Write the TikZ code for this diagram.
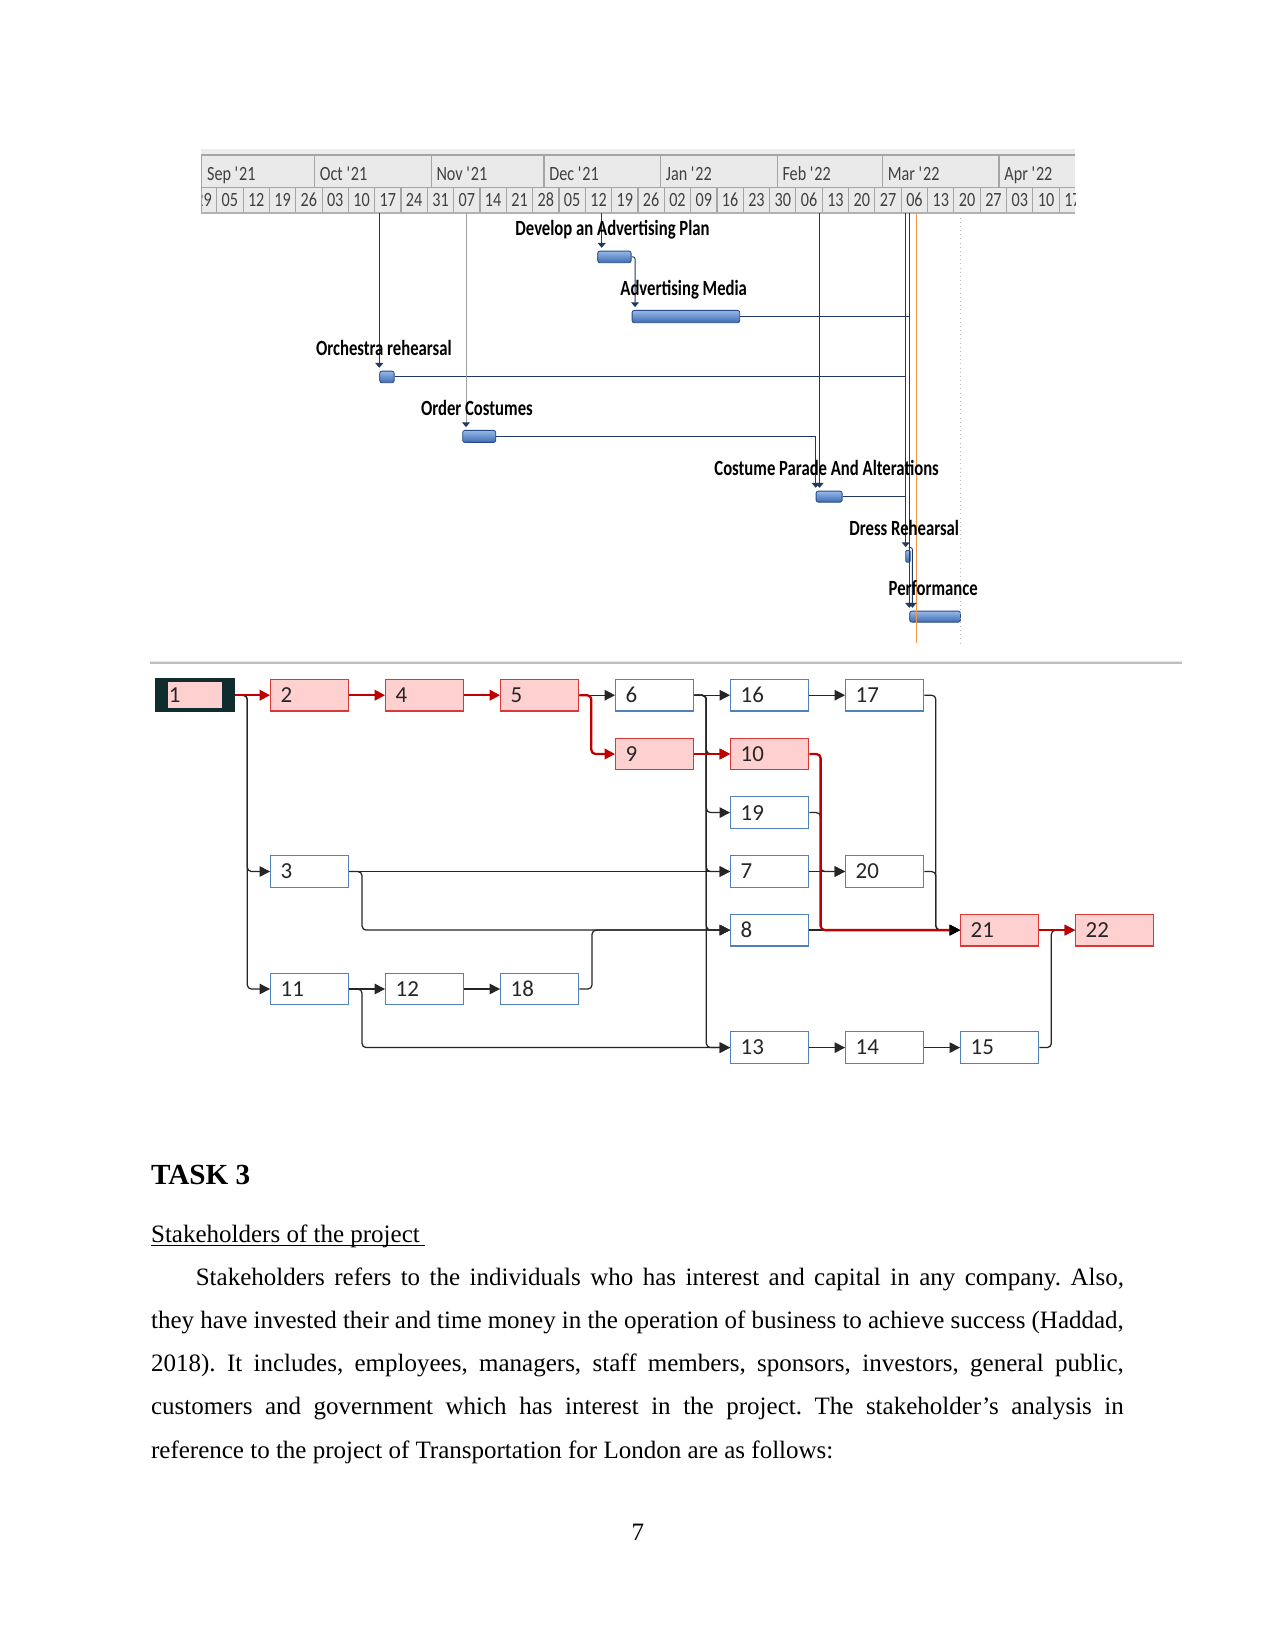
\documentclass[tikz,border=0pt]{standalone}
\usepackage{fontspec}
\setmainfont{Liberation Serif}
\newfontfamily\netfont{Carlito}
\newfontfamily\hdrfont[FakeStretch=0.8]{Carlito}
\newfontfamily\lblfont[FakeStretch=0.77]{Carlito}
\usetikzlibrary{arrows.meta}
\frenchspacing
\definecolor{gline}{RGB}{31,56,100}
\definecolor{nblue}{RGB}{79,129,189}
\definecolor{critred}{RGB}{192,0,0}
\definecolor{critdraw}{RGB}{220,55,55}
\definecolor{critfill}{RGB}{255,208,208}
\definecolor{hdrbg}{RGB}{234,234,234}
\definecolor{hdrline}{RGB}{165,165,165}
\definecolor{barTop}{RGB}{150,185,230}
\definecolor{barBot}{RGB}{62,107,180}
\definecolor{barDraw}{RGB}{40,75,135}
\definecolor{todayline}{RGB}{245,150,70}
\definecolor{boxone}{RGB}{15,45,45}
\begin{document}
\begin{tikzpicture}[x=0.48pt,y=-0.48pt,
  nbox/.style={draw=nblue, fill=white, line width=0.6pt, minimum height=15.17pt,
    text width=27.84pt, inner xsep=4.8pt, inner ysep=0pt, align=left,
    font=\netfont\fontsize{11pt}{13pt}\selectfont, text=black!85},
  cbox/.style={nbox, draw=critdraw, fill=critfill},
  blk/.style={draw=black!85, line width=0.6pt, rounded corners=2pt, -{Triangle[length=5pt,width=5pt]}},
  redl/.style={draw=critred, line width=1.1pt, rounded corners=2pt, -{Triangle[length=5pt,width=5pt]}},
  gl/.style={draw=gline, line width=0.45pt, rounded corners=1pt},
  garr/.style={gl, shorten >=1.4pt, -{Triangle[length=2.3pt,width=3.8pt]}},
  gbar/.style={draw=barDraw, line width=0.4pt, top color=barTop, bottom color=barBot,
    rounded corners=1pt, inner sep=0pt, anchor=north west},
  glabel/.style={font=\lblfont\fontsize{10.4pt}{12pt}\bfseries\selectfont, inner sep=0pt, anchor=base west},
  hdr/.style={font=\hdrfont\fontsize{9.7pt}{11pt}\selectfont, text=black!75, inner sep=0pt},
  para/.style={anchor=base west, inner sep=0pt, font=\fontsize{12pt}{14pt}\selectfont}
]
\useasboundingbox (0,0) rectangle (1275,1650);
\fill[white] (0,0) rectangle (1275,1650);

% ---------------- Gantt header ----------------
\begin{scope}
\clip (201,148) rectangle (1075.5,214);
\fill[gray!14] (201,149) rectangle (1075,155);
\fill[hdrbg] (201,155) rectangle (1075,213);
\draw[hdrline, line width=0.6pt] (201,155) -- (1075,155);
\draw[hdrline, line width=0.5pt] (201,187.5) -- (1075,187.5);
\foreach \mx/\ml [count=\i] in {201.7/Sep \textquotesingle21, 314.5/Oct \textquotesingle21,
   431.1/Nov \textquotesingle21, 544/Dec \textquotesingle21, 660.5/Jan \textquotesingle22,
   777.1/Feb \textquotesingle22, 882.4/Mar \textquotesingle22, 999/Apr \textquotesingle22}{
  \draw[hdrline, line width=0.5pt] (\mx,155) -- (\mx,187.5);
  \node[hdr, anchor=base west] (m\i) at (\mx+5,180.5) {\ml};
}
\foreach \lab [count=\k from 0] in {29,05,12,19,26,03,10,17,24,31,07,14,21,28,05,12,19,26,02,09,16,23,30,06,13,20,27,06,13,20,27,03,10,17}{
  \node[hdr, anchor=base] (d\k) at ({203.54+26.33*\k},206.8) {\lab};
  \draw[hdrline, line width=0.5pt] ({190.37+26.33*\k},187.5) -- ({190.37+26.33*\k},212.8);
}
\draw[hdrline, line width=0.5pt] (201,155) -- (201,213);
\draw[gray!60, line width=1pt] (201,212.8) -- (1075,212.8);
\end{scope}

% ---------------- Gantt bars ----------------
\node[gbar, minimum width={33.4*0.48pt}, minimum height={11.6*0.48pt}] (b1) at (597.3,250.7) {};
\node[gbar, minimum width={107.6*0.48pt}, minimum height={12.3*0.48pt}] (b2) at (631.7,310) {};
\node[gbar, minimum width={14.4*0.48pt}, minimum height={11.6*0.48pt}] (b3) at (379.3,370.7) {};
\node[gbar, minimum width={33*0.48pt}, minimum height={12*0.48pt}] (b4) at (462.3,430) {};
\node[gbar, minimum width={26*0.48pt}, minimum height={11*0.48pt}] (b5) at (815.7,490.7) {};
\node[gbar, minimum width={4.4*0.48pt}, minimum height={11.7*0.48pt}, rounded corners=0.5pt] (b6) at (905.3,550) {};
\node[gbar, minimum width={50.7*0.48pt}, minimum height={11*0.48pt}] (b7) at (909.3,610.7) {};

% header anchors of links
\coordinate (hP) at (601.7,213.4);
\coordinate (hO) at (379.3,213.4);
\coordinate (hC) at (466,213.4);
\coordinate (hD) at (819.5,213.4);
\coordinate (hA) at (905.7,213.4);
\coordinate (hB) at (909.3,213.4);
\coordinate (hT) at (916.7,213.4);
\coordinate (eT) at (916.7,643);
\coordinate (hS) at (960.5,213.4);
\coordinate (eS) at (960.5,643);

\draw[todayline, line width=0.5pt] (hT) -- (eT);
\draw[gray!55, line width=0.5pt, dash pattern=on 0.5pt off 1.5pt] (hS) -- (eS);

\draw[garr] (hP) -- (hP |- b1.north);
\draw[garr] (b1.east) -| ([xshift=1.6pt]b2.north west);
\draw[gl] (b2.east) -- (b2.east -| hB);
\draw[garr] (hO) -- (hO |- b3.north);
\draw[gl] (b3.east) -- (b3.east -| hA);
\draw[gl, draw=gray!75, shorten >=1.4pt, -{Triangle[length=2.3pt,width=3.8pt,color=gline]}] (hC) -- (hC |- b4.north);
\draw[gl] (b4.east) -- (b4.east -| b5.north west);
\draw[garr] (b4.east -| b5.north west) -- (b5.north west);
\draw[garr] (hD) -- (hD |- b5.north);
\draw[gl] (b5.east) -- (b5.east -| hA);
\draw[garr] (hA) -- (hA |- b6.north);
\draw[garr] (hB) -- (hB |- b7.north);
\draw[garr] ([yshift=1.2pt]b6.north east) -| ([xshift=1.5pt]b7.north west);

% Gantt labels
\node[glabel] (l1) at (515,236) {Develop an Advertising Plan};
\node[glabel] (l2) at (620,296) {Advertising Media};
\node[glabel] (l3) at (315.7,356) {Orchestra rehearsal};
\node[glabel] (l4) at (420.7,415.3) {Order Costumes};
\node[glabel] (l5) at (714,475) {Costume Parade And Alterations};
\node[glabel] (l6) at (849,535) {Dress Rehearsal};
\node[glabel] (l7) at (888.3,595) {Performance};

% ---------------- separator ----------------
\coordinate (sepL) at (150,663.3);
\coordinate (sepR) at (1182,663.3);
\draw[gray!20, line width=1pt] ([yshift=0.8pt]sepL) -- ([yshift=0.8pt]sepR);
\draw[gray!50, line width=1pt] (sepL) -- (sepR);

% ---------------- network nodes ----------------
\node[draw=boxone, fill=boxone, line width=1.1pt, minimum width=37.44pt, minimum height=15.17pt, inner sep=0pt] (n1) at (195.1,695.2) {};
\node[fill=critfill, minimum width=26.2pt, minimum height=12.4pt, inner xsep=0.6pt, inner ysep=0pt,
  text width=25pt, align=left, font=\netfont\fontsize{11pt}{13pt}\selectfont, text=black!85] (n1i) at (195,695.2) {1};
\node[cbox] (n2) at (309.7,695.2) {2};
\node[cbox] (n4) at (424.7,695.2) {4};
\node[cbox] (n5) at (539.7,695.2) {5};
\node[nbox] (n6) at (654.7,695.2) {6};
\node[nbox] (n16) at (769.7,695.2) {16};
\node[nbox] (n17) at (884.7,695.2) {17};
\node[cbox] (n9) at (654.7,754) {9};
\node[cbox] (n10) at (769.7,754) {10};
\node[nbox] (n19) at (769.7,812.6) {19};
\node[nbox] (n3) at (309.7,871.5) {3};
\node[nbox] (n7) at (769.7,871.5) {7};
\node[nbox] (n20) at (884.7,871.5) {20};
\node[nbox] (n8) at (769.7,930.1) {8};
\node[cbox] (n21) at (999.7,930.1) {21};
\node[cbox] (n22) at (1114.7,930.1) {22};
\node[nbox] (n11) at (309.7,989) {11};
\node[nbox] (n12) at (424.7,989) {12};
\node[nbox] (n18) at (539.7,989) {18};
\node[nbox] (n13) at (769.7,1047.6) {13};
\node[nbox] (n14) at (884.7,1047.6) {14};
\node[nbox] (n15) at (999.7,1047.6) {15};

% ---------------- network links (black) ----------------
\draw[blk] (n1.east) -- ++(12,0) |- (n3.west);
\draw[blk] (n1.east) -- ++(12,0) |- (n11.west);
\draw[blk] (n5.east) -- (n6.west);
\draw[blk] (n6.east) -- (n16.west);
\draw[blk] (n6.east) -- ++(12,0) |- (n10.west);
\draw[blk] (n6.east) -- ++(12,0) |- (n19.west);
\draw[blk] (n6.east) -- ++(12,0) |- (n7.west);
\draw[blk] (n6.east) -- ++(12,0) |- (n8.west);
\draw[blk] (n6.east) -- ++(12,0) |- (n13.west);
\draw[blk] (n16.east) -- (n17.west);
\draw[blk] (n17.east) -- ++(11.5,0) |- (n21.west);
\draw[blk] (n20.east) -- ++(11.5,0) |- (n21.west);
\draw[blk] (n19.east) -- ++(11.3,0) |- (n20.west);
\draw[blk] (n7.east) -- (n20.west);
\draw[blk] (n8.east) -- (n21.west);
\draw[blk] (n3.east) -- (n7.west);
\draw[blk] (n3.east) -- ++(12.7,0) |- (n8.west);
\draw[blk] (n11.east) -- (n12.west);
\draw[blk] (n11.east) -- ++(12.7,0) |- (n13.west);
\draw[blk] (n12.east) -- (n18.west);
\draw[blk] (n18.east) -- ++(12.7,0) |- (n8.west);
\draw[blk] (n13.east) -- (n14.west);
\draw[blk] (n14.east) -- (n15.west);
\draw[blk] (n15.east) -- ++(12,0) |- (n22.west);

% ---------------- critical path (red) ----------------
\draw[redl] (n1.east) -- (n2.west);
\draw[redl] (n2.east) -- (n4.west);
\draw[redl] (n4.east) -- (n5.west);
\draw[redl] (n5.east) -- ++(12,0) |- (n9.west);
\draw[redl] (n9.east) -- (n10.west);
\draw[redl, -{Triangle[length=5pt,width=5pt,color=black]}] (n10.east) -- ++(11.3,0) |- (n21.west);
\draw[redl] (n21.east) -- (n22.west);

% ---------------- text ----------------
\node[anchor=base west, inner sep=0pt, font=\bfseries\fontsize{14pt}{16pt}\selectfont] (task) at (150.7,1184.7) {TASK 3};
\node[para] (sub) at (150.7,1242) {Stakeholders of the project};
\draw[line width=0.5pt] ([yshift=-1.7pt]sub.base west) -- ++(273.9,0);
\node[para] (p1) at (195.4,1285) {\makebox[445.5pt][s]{Stakeholders refers to the individuals who has interest and capital in any company. Also,}};
\node[para] (p2) at (150.7,1328.3) {\makebox[466.9pt][s]{they have invested their and time money in the operation of business to achieve success (Haddad,}};
\node[para] (p3) at (150.7,1371.6) {\makebox[466.9pt][s]{2018). It includes, employees, managers, staff members, sponsors, investors, general public,}};
\node[para] (p4) at (150.7,1414.9) {\makebox[466.9pt][s]{customers and government which has interest in the project. The stakeholder’s analysis in}};
\node[para] (p5) at (150.7,1458.2) {reference to the project of Transportation for London are as follows:};
\node[inner sep=0pt, anchor=base, font=\fontsize{12pt}{14pt}\selectfont] (pg) at (637.9,1540.5) {7};
\end{tikzpicture}
\end{document}
